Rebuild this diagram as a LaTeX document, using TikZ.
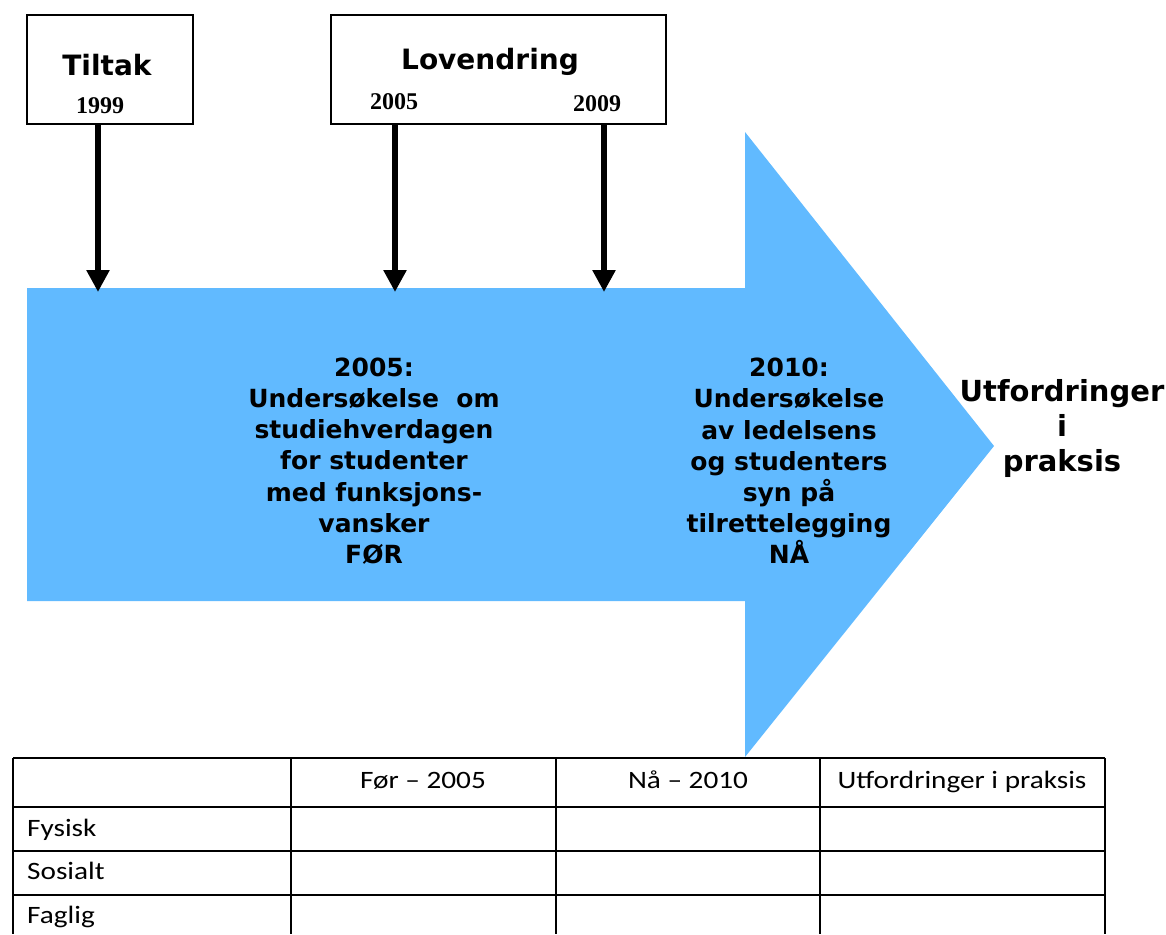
\documentclass[tikz,border=0pt]{standalone}
\usepackage{fontspec}
\setmainfont{DejaVu Sans}
\newfontfamily\yearfont{Liberation Serif}
\newfontfamily\tablefont[FakeStretch=1.17]{Carlito}
\usepackage{tikz}
\usetikzlibrary{arrows.meta,positioning,calc}
\definecolor{ink}{RGB}{0,0,0}
\definecolor{flowblue}{RGB}{97,186,255}

\begin{document}
\begin{tikzpicture}[x=1pt,y=-1pt,
    eventbox/.style={draw=ink,line width=1.1pt,fill=white,inner sep=0pt},
    eventtitle/.style={font=\fontsize{28}{32}\selectfont\bfseries},
    yearlabel/.style={font=\yearfont\fontsize{24}{26}\selectfont\bfseries},
    yeararrow/.style={draw=ink,line width=5.5pt,-{Triangle[width=22pt,length=22pt]}},
    flowtext/.style={align=center,inner sep=0pt,
      font=\fontsize{25}{31.2}\selectfont\bfseries},
    tableline/.style={draw=ink,line width=1.8pt},
    tablecell/.style={font=\tablefont\fontsize{25}{30}\selectfont,
      inner sep=0pt,anchor=base}]
  \useasboundingbox (0,0) rectangle (1166,934);

  % the big timeline arrow
  \fill[flowblue] (27,288) -- (745,288) -- (745,132) -- (994,446)
    -- (745,757) -- (745,601) -- (27,601) -- cycle;

  % boxes on top
  \node[eventbox,minimum width=166pt,minimum height=109pt] (tiltak) at (110,69.5) {};
  \node[eventtitle] (tiltaktitle) at (107,65) {Tiltak};
  \node[yearlabel] (y1999) at (100,106) {1999};

  \node[eventbox,minimum width=335pt,minimum height=109pt] (lov) at (498.5,69.5) {};
  \node[eventtitle] (lovtitle) at (490,62) {Lovendring};
  \node[yearlabel] (y2005) at (394,102) {2005};
  \node[yearlabel] (y2009) at (597,104) {2009};

  \coordinate (hit1999) at (98,292);
  \coordinate (hit2005) at (395,292);
  \coordinate (hit2009) at (604,292);
  \draw[yeararrow] (tiltak.south -| hit1999) -- (hit1999);
  \draw[yeararrow] (lov.south -| hit2005) -- (hit2005);
  \draw[yeararrow] (lov.south -| hit2009) -- (hit2009);

  % texts in the arrow
  \node[flowtext] (before) at (374,461) {2005:\\Undersøkelse\ \ om\\studiehverdagen\\
    for studenter\\med funksjons-\\vansker\\FØR};
  \node[flowtext] (now) at (789,461) {2010:\\Undersøkelse\\av ledelsens\\
    og studenters\\syn på\\tilrettelegging\\NÅ};
  \node[flowtext,font=\fontsize{29}{35}\selectfont\bfseries] (ahead) at (1062,428)
    {Utfordringer\\i\\praksis};

  % table
  \foreach \y in {758,807,851,895}
    \draw[tableline] (13,\y) -- (1105,\y);
  \foreach \x in {13,291,556,820,1105}
    \draw[tableline] (\x,758) -- (\x,934);
  \node[tablecell] (hbefore) at (423,788) {Før – 2005};
  \node[tablecell] (hnow) at (688,788) {Nå – 2010};
  \node[tablecell] (hahead) at (962,788) {Utfordringer i praksis};
  \node[tablecell,anchor=base west] (rfysisk) at (27,836) {Fysisk};
  \node[tablecell,anchor=base west] (rsosialt) at (27,879) {Sosialt};
  \node[tablecell,anchor=base west] (rfaglig) at (27,923) {Faglig};
\end{tikzpicture}
\end{document}
